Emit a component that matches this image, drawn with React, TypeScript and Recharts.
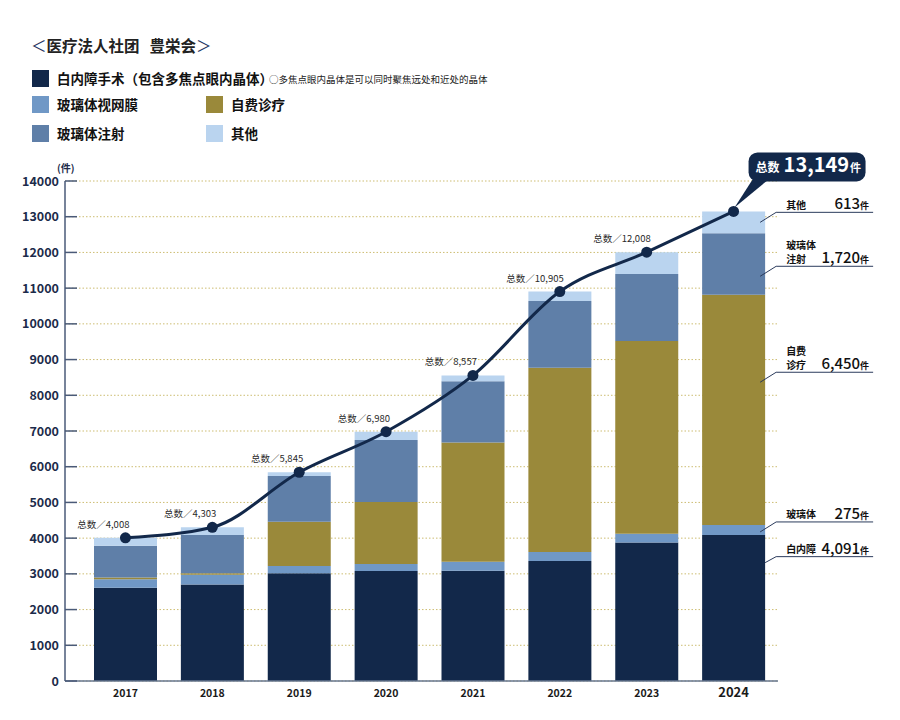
import React from 'react';
import { ComposedChart, Bar, Line, XAxis, YAxis, CartesianGrid, LabelList } from 'recharts';

const years = ['2017', '2018', '2019', '2020', '2021', '2022', '2023', '2024'];
const cataract = [2610, 2700, 3015, 3080, 3090, 3360, 3875, 4091];
const vitreoretinal = [240, 275, 205, 195, 250, 250, 250, 275];
const selfPay = [45, 45, 1240, 1740, 3340, 5160, 5395, 6450];
const injection = [895, 1065, 1280, 1735, 1710, 1870, 1875, 1720];
const other = [218, 218, 105, 230, 167, 265, 613, 613];
const totals = [4008, 4303, 5845, 6980, 8557, 10905, 12008, 13149];
const yTicks = [0, 1000, 2000, 3000, 4000, 5000, 6000, 7000, 8000, 9000, 10000, 11000, 12000, 13000, 14000];

const seriesNames = {
  cataract: '白内障手术（包含多焦点眼内晶体）',
  vitreoretinal: '玻璃体视网膜',
  selfPay: '自费诊疗',
  injection: '玻璃体注射',
  other: '其他',
};
const calloutNames = {
  cataract: ['白内障'],
  vitreoretinal: ['玻璃体'],
  selfPay: ['自费', '诊疗'],
  injection: ['玻璃体', '注射'],
  other: ['其他'],
};

const COLORS = {
  cataract: '#12284a',
  vitreoretinal: '#7098c6',
  selfPay: '#9a893a',
  injection: '#5f7fa8',
  other: '#bad4ef',
};

const FONT = '"Noto Sans CJK SC", "Noto Sans", sans-serif';

const data = years.map((y, i) => ({
  year: y,
  cataract: cataract[i],
  vitreoretinal: vitreoretinal[i],
  selfPay: selfPay[i],
  injection: injection[i],
  other: other[i],
  total: totals[i],
}));

const fmt = (n: number) => n.toLocaleString('en-US');

// annotation layout: fraction inside segment where leader starts
const annFrac: Record<string, number> = {
  other: 0.5,
  injection: 0.7,
  selfPay: 0.38,
  vitreoretinal: 0.7,
  cataract: 0.19,
};

const makeAnnotation = (key: string, values: number[]) => (props: any) => {
  const idx = props.index;
  if (idx !== values.length - 1) return null;
  const vb = props.viewBox || {};
  const x = Number(props.x ?? vb.x);
  const y = Number(props.y ?? vb.y);
  const w = Number(props.width ?? vb.width);
  const rawH = Number(props.height ?? vb.height);
  const h = Math.abs(rawH);
  const top = Math.min(y, y + rawH);
  const right = x + w;
  const startY = top + annFrac[key] * h;
  const startX = key === 'cataract' ? right : right - 5;
  const ulY = key === 'cataract' ? startY - 6 : startY - 10;
  const lines = (calloutNames as any)[key] as string[];
  return (
    <g>
      <polyline
        points={`${startX},${startY} ${right + 11},${ulY} ${right + 108},${ulY}`}
        fill="none"
        stroke="#2b3b5c"
        strokeWidth={1}
      />
      {lines.map((t, k) => (
        <text
          key={k}
          x={right + 21}
          y={ulY - 3.5 - (lines.length - 1 - k) * 13.5}
          fontSize={10}
          fontWeight={700}
          fill="#111"
          fontFamily={FONT}
        >
          {t}
        </text>
      ))}
      <text x={right + 104} y={ulY - 3} textAnchor="end" fill="#111" fontFamily={FONT}>
        <tspan fontSize={15} fontWeight={500}>{fmt(values[idx])}</tspan>
        <tspan fontSize={9} fontWeight={700}>件</tspan>
      </text>
    </g>
  );
};

const totalLabel = (props: any) => {
  const idx = props.index;
  const x = Number(props.x);
  const y = Number(props.y);
  if (idx === totals.length - 1) {
    return (
      <g>
        <rect x={x + 15} y={y - 59} width={117} height={29} rx={9} fill="#12284a" />
        <polygon points={`${x + 19},${y - 32} ${x + 35},${y - 32} ${x + 1},${y - 4}`} fill="#12284a" />
        <text x={x + 22} y={y - 39} fill="#fff" fontFamily={FONT}>
          <tspan fontSize={12} fontWeight={700}>总数</tspan>
          <tspan fontSize={20} fontWeight={700} dx={4}>{fmt(totals[idx])}</tspan>
          <tspan fontSize={11} fontWeight={700} dx={1}>件</tspan>
        </text>
      </g>
    );
  }
  return (
    <text x={x + 4} y={y - 10} textAnchor="end" fontSize={9.5} fill="#2a2a2a" fontFamily={FONT}>
      {`总数／${fmt(totals[idx])}`}
    </text>
  );
};

const YTick = (props: any) => {
  const { x, y, payload } = props;
  return (
    <g>
      <line x1={x + 5} x2={x + 17} y1={y} y2={y} stroke="#4a5a78" strokeWidth={1.5} />
      <text x={x - 1} y={y + 4.5} textAnchor="end" fontSize={12.5} fontWeight={700} fill="#1c2b4a" fontFamily={FONT}>
        {payload.value}
      </text>
    </g>
  );
};

const XTick = (props: any) => {
  const { x, y, payload } = props;
  const last = payload.value === years[years.length - 1];
  return (
    <text
      x={x}
      y={y + 16}
      textAnchor="middle"
      fontSize={last ? 13 : 10.5}
      fontWeight={700}
      fill="#1a1a1a"
      fontFamily={FONT}
    >
      {payload.value}
    </text>
  );
};

const Swatch = ({ color, left, top, label }: { color: string; left: number; top: number; label: string }) => (
  <div style={{ position: 'absolute', left, top, display: 'flex', alignItems: 'center' }}>
    <div style={{ width: 17, height: 17, background: color }} />
    <span style={{ marginLeft: 8, fontSize: 13.5, fontWeight: 700, color: '#111', whiteSpace: 'nowrap', lineHeight: '17px' }}>
      {label}
    </span>
  </div>
);

export default function App() {
  return (
    <div style={{ position: 'absolute', left: 0, top: 0, width: 900, height: 720, background: '#fff', fontFamily: FONT }}>
      <div style={{ position: 'absolute', left: 31, top: 35, fontSize: 15.5, fontWeight: 700, color: '#222', whiteSpace: 'nowrap', lineHeight: '20px' }}>
        <span style={{ color: '#1f3563', fontWeight: 400 }}>＜</span>医疗法人社团<span style={{ display: 'inline-block', width: 10 }} />豊栄会<span style={{ color: '#1f3563', fontWeight: 400 }}>＞</span>
      </div>
      <Swatch color={COLORS.cataract} left={32} top={70} label={seriesNames.cataract} />
      <div style={{ position: 'absolute', left: 269, top: 73, fontSize: 9.5, color: '#222', whiteSpace: 'nowrap', lineHeight: '12px' }}>
        ○多焦点眼内晶体是可以同时聚焦远处和近处的晶体
      </div>
      <Swatch color={COLORS.vitreoretinal} left={32} top={96} label={seriesNames.vitreoretinal} />
      <Swatch color={COLORS.selfPay} left={206} top={96} label={seriesNames.selfPay} />
      <Swatch color={COLORS.injection} left={32} top={125} label={seriesNames.injection} />
      <Swatch color={COLORS.other} left={206} top={125} label={seriesNames.other} />
      <div style={{ position: 'absolute', left: 57, top: 161, fontSize: 10, fontWeight: 700, color: '#1c2b4a', lineHeight: '14px' }}>(件)</div>

      <div style={{ position: 'absolute', left: 0, top: 0 }}>
        <ComposedChart
          width={900}
          height={720}
          data={data}
          margin={{ top: 181, right: 122, bottom: 9, left: 5 }}
          barCategoryGap={0}
        >
          <CartesianGrid vertical={false} stroke="#cdbd72" strokeDasharray="1.5 2" strokeWidth={1} />
          <XAxis
            dataKey="year"
            height={30}
            padding={{ left: 17, right: 1 }}
            tick={<XTick />}
            tickLine={false}
            tickSize={0}
            tickMargin={0}
            axisLine={{ stroke: '#66768f', strokeWidth: 1.5 }}
            interval={0}
          />
          <YAxis
            width={60}
            domain={[0, 14000]}
            ticks={yTicks}
            interval={0}
            tick={<YTick />}
            tickLine={false}
            tickSize={0}
            tickMargin={5}
            axisLine={{ stroke: '#4a5a78', strokeWidth: 1.5 }}
          />
          <Bar dataKey="cataract" stackId="a" fill={COLORS.cataract} barSize={63} isAnimationActive={false}>
            <LabelList content={makeAnnotation('cataract', cataract)} />
          </Bar>
          <Bar dataKey="vitreoretinal" stackId="a" fill={COLORS.vitreoretinal} barSize={63} isAnimationActive={false}>
            <LabelList content={makeAnnotation('vitreoretinal', vitreoretinal)} />
          </Bar>
          <Bar dataKey="selfPay" stackId="a" fill={COLORS.selfPay} barSize={63} isAnimationActive={false}>
            <LabelList content={makeAnnotation('selfPay', selfPay)} />
          </Bar>
          <Bar dataKey="injection" stackId="a" fill={COLORS.injection} barSize={63} isAnimationActive={false}>
            <LabelList content={makeAnnotation('injection', injection)} />
          </Bar>
          <Bar dataKey="other" stackId="a" fill={COLORS.other} barSize={63} isAnimationActive={false}>
            <LabelList content={makeAnnotation('other', other)} />
          </Bar>
          <Line
            dataKey="total"
            type="monotone"
            stroke="#12284a"
            strokeWidth={3}
            dot={{ r: 5.5, fill: '#12284a', stroke: '#12284a', strokeWidth: 0 }}
            activeDot={false}
            isAnimationActive={false}
          >
            <LabelList content={totalLabel} />
          </Line>
        </ComposedChart>
      </div>
    </div>
  );
}
